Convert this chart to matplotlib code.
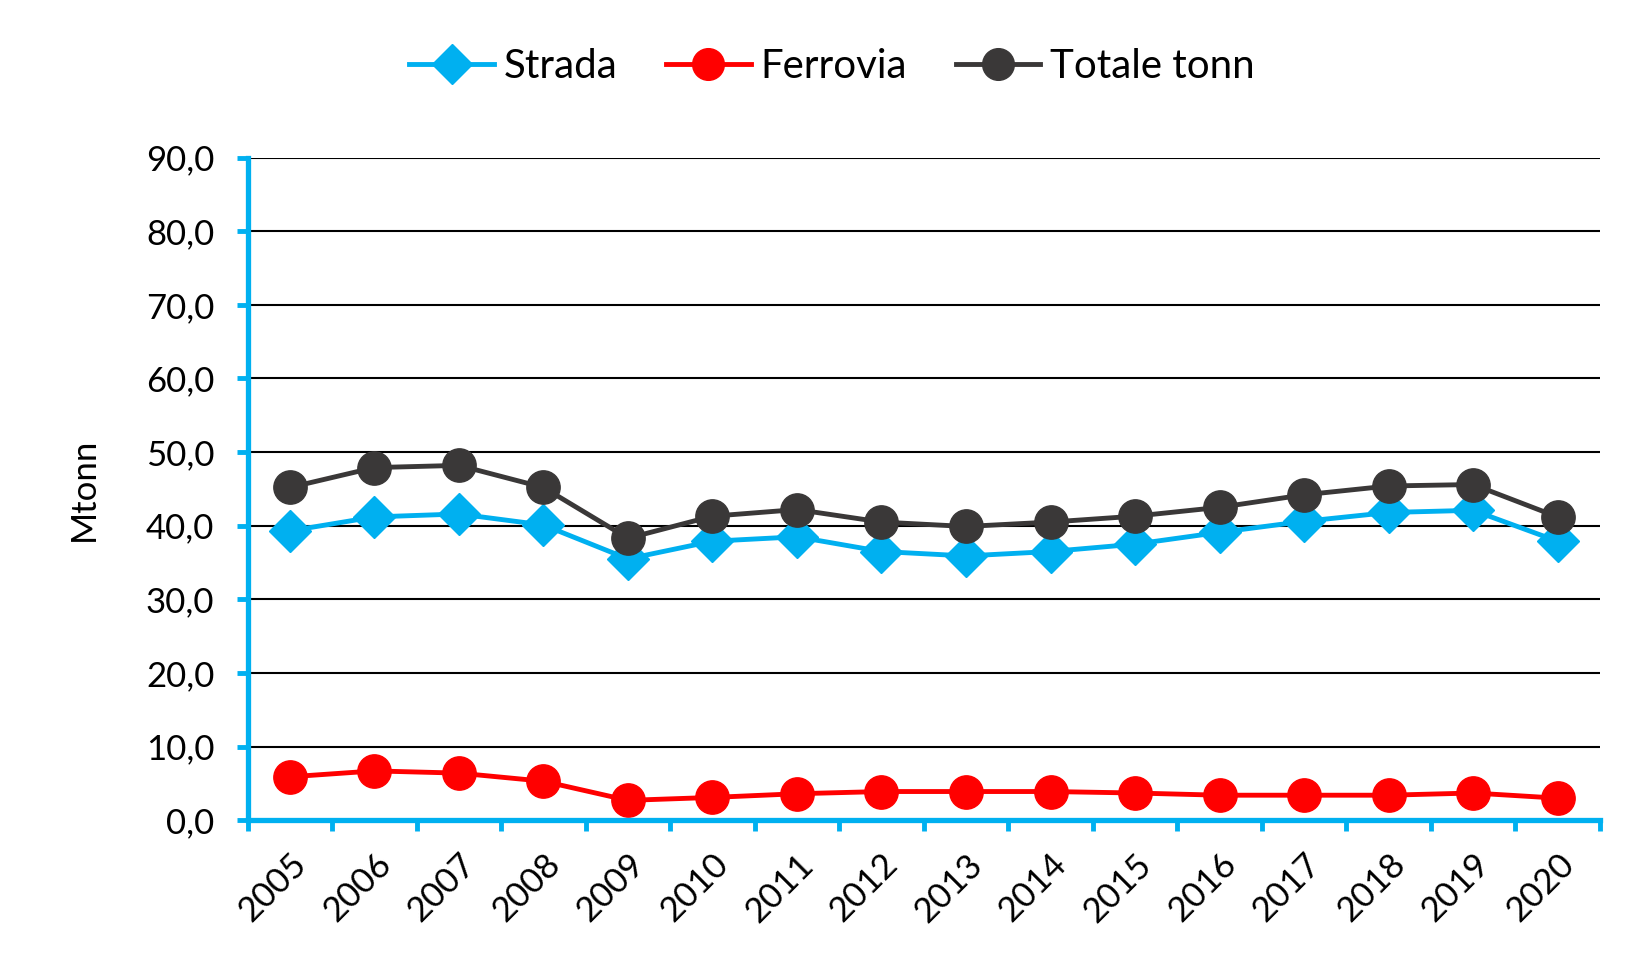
import numpy as np
import matplotlib.pyplot as plt

plt.rcParams['font.family'] = ['Lato', 'DejaVu Sans']

# Data (Mtonn)
years = ['2005', '2006', '2007', '2008', '2009', '2010', '2011', '2012',
         '2013', '2014', '2015', '2016', '2017', '2018', '2019', '2020']
strada = [39.3, 41.2, 41.6, 40.1, 35.5, 37.9, 38.5, 36.5,
          35.9, 36.5, 37.5, 39.1, 40.6, 41.8, 42.1, 37.9]
ferrovia = [5.9, 6.7, 6.4, 5.3, 2.7, 3.1, 3.6, 3.9,
            3.9, 3.9, 3.7, 3.4, 3.4, 3.4, 3.7, 3.0]
totale = [45.2, 47.9, 48.2, 45.2, 38.3, 41.3, 42.2, 40.5,
          39.9, 40.5, 41.3, 42.5, 44.2, 45.4, 45.6, 41.2]

blue = '#00B0F0'
red = '#FF0000'
dark = '#3A3838'

fig = plt.figure(figsize=(16.51, 9.73), dpi=100)
ax = fig.add_axes([0.150, 0.157, 0.819, 0.681])

x = np.arange(len(years))
ax.plot(x, strada, color=blue, lw=3.5, marker='D', ms=21, label='Strada')
ax.plot(x, ferrovia, color=red, lw=3.5, marker='o', ms=24, label='Ferrovia')
ax.plot(x, totale, color=dark, lw=3.5, marker='o', ms=24, label='Totale tonn')

ax.set_xlim(-0.5, len(years) - 0.5)
ax.set_ylim(0, 90)
ax.set_yticks(np.arange(0, 91, 10))
ax.set_yticklabels([f'{v:.1f}'.replace('.', ',') for v in np.arange(0, 91, 10)])
ax.yaxis.grid(True, color='black', lw=1.5)
ax.set_axisbelow(True)

ax.set_xticks(x)
ax.set_xticklabels(years, rotation=45, ha='right', rotation_mode='anchor')
ax.set_xticks(np.arange(-0.5, len(years)), minor=True)
ax.tick_params(axis='x', which='major', length=0, labelsize=25, pad=20)
ax.tick_params(axis='x', which='minor', length=8, width=3.5, color=blue, direction='out')
ax.tick_params(axis='y', length=8, width=3.5, color=blue, labelsize=25, pad=16)

for s in ['top', 'right']:
    ax.spines[s].set_visible(False)
for s in ['left', 'bottom']:
    ax.spines[s].set_color(blue)
    ax.spines[s].set_linewidth(3.8)

ax.set_ylabel('Mtonn', fontsize=25, labelpad=33)

fig.legend(loc='center', bbox_to_anchor=(0.504, 0.932), ncol=3, frameon=False,
           fontsize=29, handlelength=2.1, columnspacing=1.2, handletextpad=0.25,
           markerscale=0.95)

fig.savefig('out.png', dpi=100)
